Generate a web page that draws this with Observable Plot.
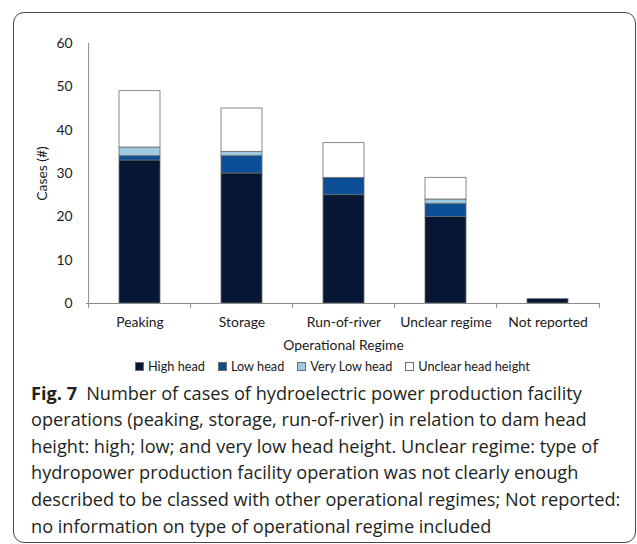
<!DOCTYPE html>
<html><head><meta charset="utf-8">
<script src="https://cdn.jsdelivr.net/npm/d3@7"></script>
<script src="https://cdn.jsdelivr.net/npm/@observablehq/plot@0.6"></script>
<style>
html,body{margin:0;padding:0;background:#fff;}
body{position:relative;width:637px;height:544px;overflow:hidden;font-family:"Open Sans",sans-serif;}
#frame{position:absolute;left:12.5px;top:12.3px;width:623.5px;height:530.5px;box-sizing:border-box;border:1.3px solid #474747;border-radius:11px;pointer-events:none;}
#chart{position:absolute;left:0;top:0;}
#legend{position:absolute;left:135px;top:358px;height:16px;display:flex;align-items:center;white-space:nowrap;color:#1a1a1a;font-family:Lato,sans-serif;}
#legend .item{display:flex;align-items:center;margin-right:13px;}
#legend .sw{width:7px;height:7px;border:0.8px solid #6d6d6d;margin-right:4px;}
#caption{position:absolute;left:31px;color:#231f20;white-space:nowrap;font-family:"Open Sans",sans-serif;}
</style></head><body>
<div id="chart"></div><div id="legend"></div><div id="caption"></div><div id="frame"></div>
<script>
// ---- data ----
const categories = ["Peaking", "Storage", "Run-of-river", "Unclear regime", "Not reported"];
const series = ["High head", "Low head", "Very Low head", "Unclear head height"];
const highHead    = [33, 30, 25, 20, 1];
const lowHead     = [1, 4, 4, 3, 0];
const veryLowHead = [2, 1, 0, 1, 0];
const unclearHead = [13, 10, 8, 5, 0];
const yTicks = [0, 10, 20, 30, 40, 50, 60];
const colors = ["#051733", "#0c4f96", "#9dcae1", "#ffffff"];
const yLabel = "Cases (#)";
const xLabel = "Operational Regime";
const captionBold = "Fig. 7";
const captionLines = [
  "Number of cases of hydroelectric power production facility",
  "operations (peaking, storage, run-of-river) in relation to dam head",
  "height: high; low; and very low head height. Unclear regime: type of",
  "hydropower production facility operation was not clearly enough",
  "described to be classed with other operational regimes; Not reported:",
  "no information on type of operational regime included"
];

// ---- font fitting ----
const CHART_FAM = 'Lato';
const CAP_FAM = '"Open Sans"';
const ctx = document.createElement("canvas").getContext("2d");
function fitSize(text, target, fam, weight = "normal") {
  ctx.font = `${weight} 100px ${fam}`;
  return 100 * target / ctx.measureText(text).width;
}
const tickFs = fitSize("Unclear regime", 92, CHART_FAM);
const legendFs = fitSize("Unclear head height", 112, CHART_FAM);
const capFs = fitSize(captionLines[4], 590, CAP_FAM);

// ---- chart ----
const seriesValues = [highHead, lowHead, veryLowHead, unclearHead];
const data = categories.flatMap((c, i) => series.map((s, j) => ({category: c, series: s, value: seriesValues[j][i]})))
  .filter(d => d.value > 0);

const W = 637, H = 380, mL = 86, mR = 37, mT = 43, mB = 77;
const step = (W - mL - mR) / categories.length;
const axisColor = "#8c8c8c";

const plot = Plot.plot({
  width: W, height: H,
  marginLeft: mL, marginRight: mR, marginTop: mT, marginBottom: mB,
  style: {fontFamily: CHART_FAM, fontSize: tickFs + "px", color: "#1a1a1a", background: "transparent", overflow: "visible"},
  x: {domain: categories, paddingInner: 0.6, paddingOuter: 0.3},
  y: {domain: [0, 60]},
  color: {domain: series, range: colors},
  marks: [
    Plot.barY(data, {x: "category", y: "value", fill: "series", stroke: "#6d6d6d", strokeWidth: 0.8}),
    Plot.ruleY([0], {stroke: axisColor}),
    Plot.ruleX([categories[0]], {dx: -step / 2, y1: 0, y2: 60, stroke: axisColor}),
    Plot.ruleX(categories, {dx: -step / 2, y1: 0, y2: 0, insetTop: 5, stroke: axisColor}),
    Plot.ruleX([categories[categories.length - 1]], {dx: step / 2, y1: 0, y2: 0, insetTop: 5, stroke: axisColor}),
    Plot.axisY({ticks: yTicks, tickSize: 0, tickPadding: 14, label: yLabel, labelAnchor: "center", labelOffset: 49, labelArrow: "none", fontSize: tickFs}),
    Plot.axisX({tickSize: 0, tickPadding: 14, label: xLabel, labelAnchor: "center", labelOffset: 46, labelArrow: "none", fontSize: tickFs})
  ]
});
document.getElementById("chart").appendChild(plot);

// ---- legend ----
const color = plot.scale("color");
const legend = document.getElementById("legend");
legend.style.fontSize = legendFs + "px";
series.forEach(s => {
  const it = document.createElement("span");
  it.className = "item";
  const sw = document.createElement("span");
  sw.className = "sw";
  sw.style.background = color.apply(s);
  it.appendChild(sw);
  it.appendChild(document.createTextNode(s));
  legend.appendChild(it);
});

// ---- caption ----
const cap = document.getElementById("caption");
const LH = 26.6;
cap.style.fontSize = capFs + "px";
cap.style.lineHeight = LH + "px";
ctx.font = `normal ${capFs}px ${CAP_FAM}`;
const m = ctx.measureText("Hg");
const asc = m.fontBoundingBoxAscent ?? capFs * 1.069;
const desc = m.fontBoundingBoxDescent ?? capFs * 0.293;
const baseOff = (LH - (asc + desc)) / 2 + asc;
cap.style.top = (400 - baseOff) + "px";
const b = document.createElement("b");
b.textContent = captionBold;
cap.appendChild(b);
cap.appendChild(document.createTextNode("\u2002" + captionLines[0]));
captionLines.slice(1).forEach(l => {
  cap.appendChild(document.createElement("br"));
  cap.appendChild(document.createTextNode(l));
});
</script>
</body></html>
